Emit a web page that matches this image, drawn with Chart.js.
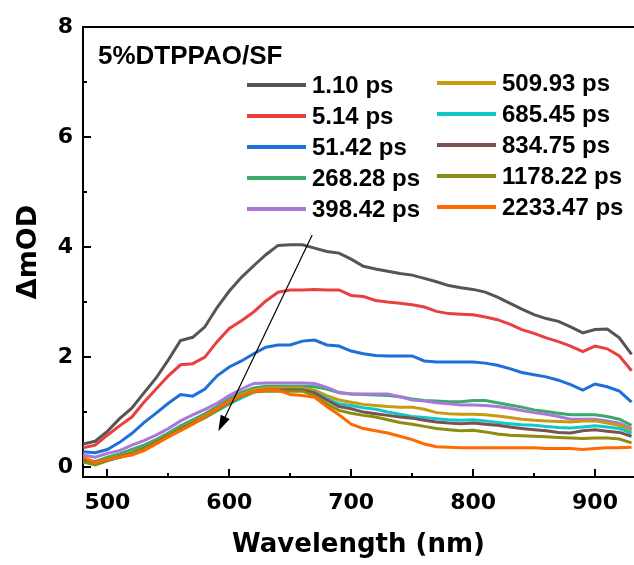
<!DOCTYPE html>
<html>
<head>
<meta charset="utf-8">
<script src="https://cdn.jsdelivr.net/npm/chart.js"></script>
<style>
  html, body { margin: 0; padding: 0; background: #fff; }
  #wrap { width: 634px; height: 565px; position: relative; }
</style>
</head>
<body>
<div id="wrap"><canvas id="c" width="634" height="565"></canvas></div>
<script>
// wavelength grid (nm)
const wavelengths = [480,490,500,510,520,530,540,550,560,570,580,590,600,610,620,630,640,650,660,670,
  680,690,700,710,720,730,740,750,760,770,780,790,800,810,820,830,840,850,860,870,880,890,900,910,920,930];

const seriesLabels = ["1.10 ps","5.14 ps","51.42 ps","268.28 ps","398.42 ps",
  "509.93 ps","685.45 ps","834.75 ps","1178.22 ps","2233.47 ps"];
const seriesColors = ["#555555","#e8403f","#1e6fd9","#3aaa6a","#aa78d8",
  "#c89a10","#10c8c8","#7a5050","#8c8c10","#ff6a00"];

const s1_10 = [0.42,0.47,0.65,0.88,1.07,1.35,1.62,1.95,2.30,2.36,2.55,2.90,3.20,3.45,3.66,3.86,4.03,4.04,4.04,3.98,
  3.92,3.89,3.78,3.65,3.60,3.56,3.52,3.49,3.43,3.37,3.30,3.26,3.23,3.18,3.09,2.98,2.87,2.77,2.70,2.65,2.55,2.44,2.50,2.51,2.35,2.05];
const s5_14 = [0.35,0.40,0.58,0.75,0.91,1.18,1.42,1.66,1.86,1.88,2.00,2.28,2.52,2.66,2.82,3.02,3.18,3.22,3.22,3.23,
  3.22,3.22,3.12,3.10,3.03,3.00,2.98,2.95,2.91,2.83,2.79,2.78,2.77,2.73,2.68,2.60,2.50,2.43,2.35,2.28,2.20,2.10,2.20,2.15,2.02,1.75];
const s51_42 = [0.28,0.26,0.32,0.45,0.61,0.81,0.98,1.16,1.32,1.29,1.42,1.66,1.82,1.93,2.06,2.18,2.22,2.22,2.29,2.31,
  2.22,2.20,2.11,2.06,2.03,2.02,2.02,2.02,1.93,1.91,1.91,1.91,1.91,1.89,1.85,1.79,1.72,1.68,1.64,1.58,1.50,1.40,1.51,1.46,1.38,1.18];
const s268_28 = [0.15,0.10,0.18,0.24,0.32,0.40,0.50,0.62,0.75,0.86,0.97,1.10,1.24,1.36,1.44,1.47,1.47,1.47,1.47,1.46,
  1.42,1.35,1.33,1.32,1.31,1.30,1.28,1.24,1.21,1.20,1.19,1.19,1.21,1.21,1.17,1.13,1.09,1.04,1.01,0.98,0.95,0.95,0.95,0.92,0.87,0.76];
const s398_42 = [0.22,0.18,0.25,0.30,0.40,0.48,0.58,0.70,0.84,0.95,1.05,1.16,1.30,1.42,1.52,1.53,1.53,1.53,1.53,1.52,
  1.45,1.36,1.33,1.33,1.33,1.33,1.28,1.22,1.20,1.17,1.15,1.13,1.13,1.12,1.10,1.07,1.03,0.99,0.96,0.92,0.87,0.87,0.87,0.84,0.80,0.70];
const s509_93 = [0.12,0.06,0.14,0.20,0.26,0.35,0.46,0.58,0.70,0.82,0.93,1.06,1.20,1.32,1.40,1.44,1.44,1.44,1.44,1.40,
  1.30,1.22,1.18,1.14,1.12,1.10,1.09,1.09,1.05,0.99,0.97,0.96,0.96,0.95,0.93,0.90,0.87,0.85,0.84,0.83,0.82,0.84,0.84,0.80,0.76,0.67];
const s685_45 = [0.10,0.05,0.12,0.18,0.24,0.33,0.44,0.56,0.68,0.79,0.90,1.02,1.15,1.26,1.36,1.40,1.40,1.40,1.40,1.36,
  1.25,1.15,1.12,1.08,1.05,1.00,0.96,0.92,0.90,0.88,0.86,0.85,0.86,0.84,0.81,0.79,0.77,0.76,0.74,0.72,0.71,0.73,0.75,0.73,0.70,0.62];
const s834_75 = [0.14,0.08,0.13,0.19,0.25,0.34,0.45,0.57,0.69,0.80,0.91,1.04,1.17,1.29,1.37,1.40,1.40,1.40,1.40,1.35,
  1.22,1.10,1.06,1.00,0.97,0.94,0.91,0.89,0.85,0.82,0.80,0.79,0.80,0.78,0.76,0.73,0.70,0.68,0.66,0.63,0.62,0.66,0.68,0.65,0.63,0.56];
const s1178_22 = [0.10,0.04,0.12,0.18,0.24,0.33,0.44,0.56,0.68,0.79,0.90,1.04,1.18,1.30,1.37,1.38,1.38,1.38,1.38,1.30,
  1.15,1.03,0.98,0.94,0.91,0.86,0.81,0.78,0.74,0.70,0.68,0.66,0.67,0.64,0.60,0.58,0.57,0.56,0.55,0.54,0.53,0.52,0.53,0.53,0.51,0.44];
const s2233_47 = [0.18,0.08,0.14,0.18,0.22,0.30,0.42,0.55,0.66,0.78,0.92,1.06,1.20,1.30,1.37,1.40,1.40,1.32,1.30,1.27,
  1.10,0.95,0.78,0.70,0.66,0.62,0.56,0.50,0.42,0.37,0.36,0.35,0.35,0.35,0.35,0.35,0.35,0.35,0.34,0.34,0.34,0.32,0.34,0.35,0.35,0.36];

const seriesValues = [s1_10,s5_14,s51_42,s268_28,s398_42,s509_93,s685_45,s834_75,s1178_22,s2233_47];

const xTicks = [500,550,600,650,700,750,800,850,900];
const yTicks = [0,1,2,3,4,5,6,7,8];
const panelTitle = "5%DTPPAO/SF";
// arrow (nm, ΔmOD): start -> tip
const arrowFrom = [668, 4.22];
const arrowTo = [591, 0.65];

const tickFont = { family: "'DejaVu Sans'", size: 22, weight: 'bold' };

// frame, inward ticks, arrow, title and legend
const decor = {
  id: 'decor',
  afterDatasetsDraw(chart) {
    const { ctx, chartArea: a, scales: { x, y } } = chart;
    ctx.save();
    ctx.strokeStyle = '#000';
    ctx.lineWidth = 2;
    ctx.beginPath();
    ctx.moveTo(a.left, a.top); ctx.lineTo(a.right, a.top);
    ctx.stroke();
    // inward ticks
    ctx.lineWidth = 2;
    xTicks.forEach(v => {
      const px = Math.round(x.getPixelForValue(v));
      const len = v % 100 === 0 ? 8 : 4;
      ctx.beginPath(); ctx.moveTo(px, a.bottom); ctx.lineTo(px, a.bottom - len); ctx.stroke();
    });
    yTicks.forEach(v => {
      const py = Math.round(y.getPixelForValue(v));
      const len = v % 2 === 0 ? 8 : 4;
      ctx.beginPath(); ctx.moveTo(a.left, py); ctx.lineTo(a.left + len, py); ctx.stroke();
    });
    // arrow
    const x0 = x.getPixelForValue(arrowFrom[0]), y0 = y.getPixelForValue(arrowFrom[1]);
    const x1 = x.getPixelForValue(arrowTo[0]), y1 = y.getPixelForValue(arrowTo[1]);
    const ang = Math.atan2(y1 - y0, x1 - x0);
    const hl = 16, hw = 5;
    ctx.lineWidth = 1.2;
    ctx.beginPath(); ctx.moveTo(x0, y0);
    ctx.lineTo(x1 - Math.cos(ang) * hl * 0.8, y1 - Math.sin(ang) * hl * 0.8); ctx.stroke();
    ctx.fillStyle = '#000';
    ctx.beginPath();
    ctx.moveTo(x1, y1);
    ctx.lineTo(x1 - Math.cos(ang) * hl - Math.sin(ang) * hw, y1 - Math.sin(ang) * hl + Math.cos(ang) * hw);
    ctx.lineTo(x1 - Math.cos(ang) * hl + Math.sin(ang) * hw, y1 - Math.sin(ang) * hl - Math.cos(ang) * hw);
    ctx.closePath(); ctx.fill();
    // panel title
    ctx.fillStyle = '#000';
    ctx.font = "bold 26px 'Liberation Sans'";
    ctx.textBaseline = 'middle';
    ctx.textAlign = 'left';
    ctx.fillText(panelTitle, a.left + 15, a.top + 30);
    // legend, two columns of five
    ctx.font = "bold 24px 'Liberation Sans'";
    seriesLabels.forEach((lab, i) => {
      const col = Math.floor(i / 5), row = i % 5;
      const lx = col === 0 ? 247 : 437;
      const ly = (col === 0 ? 85 : 83) + row * 31;
      ctx.strokeStyle = seriesColors[i];
      ctx.lineWidth = 4;
      ctx.beginPath(); ctx.moveTo(lx, ly); ctx.lineTo(lx + 59, ly); ctx.stroke();
      ctx.fillText(lab, lx + 65, ly + 1);
    });
    ctx.restore();
  }
};

const datasets = seriesValues.map((vals, i) => ({
  label: seriesLabels[i],
  data: vals,
  borderColor: seriesColors[i],
  backgroundColor: seriesColors[i],
  borderWidth: 3,
  pointRadius: 0,
  tension: 0,
  fill: false,
  order: seriesValues.length - 1 - i
}));

new Chart(document.getElementById('c'), {
  type: 'line',
  data: { labels: wavelengths, datasets: datasets },
  options: {
    responsive: false,
    animation: false,
    layout: { padding: { top: 27, right: 0, left: 0, bottom: 0 } },
    plugins: { legend: { display: false }, tooltip: { enabled: false } },
    scales: {
      x: {
        type: 'linear', min: 480, max: 932,
        afterFit(s) { s.height = 88; },
        afterBuildTicks(s) { s.ticks = xTicks.map(v => ({ value: v })); },
        grid: { display: false, drawTicks: false },
        border: { display: true, color: '#000', width: 2 },
        ticks: {
          color: '#000', font: tickFont, padding: 13, maxRotation: 0, autoSkip: false,
          callback: v => (v % 100 === 0 ? String(v) : '')
        },
        title: {
          display: true, text: 'Wavelength (nm)', color: '#000',
          font: { family: "'DejaVu Sans'", size: 26, weight: 'bold' }, padding: { top: 4 }
        }
      },
      y: {
        min: -0.18, max: 8,
        afterFit(s) { s.width = 83; },
        afterBuildTicks(s) { s.ticks = yTicks.map(v => ({ value: v })); },
        grid: { display: false, drawTicks: false },
        border: { display: true, color: '#000', width: 2 },
        ticks: {
          color: '#000', font: tickFont, padding: 10, autoSkip: false,
          callback: v => (v % 2 === 0 ? String(v) : '')
        },
        title: {
          display: true, text: 'ΔmOD', color: '#000',
          font: { family: "'DejaVu Sans'", size: 27, weight: 'bold' }, padding: { top: 13, bottom: 0 }
        }
      }
    }
  },
  plugins: [decor]
});
</script>
</body>
</html>
